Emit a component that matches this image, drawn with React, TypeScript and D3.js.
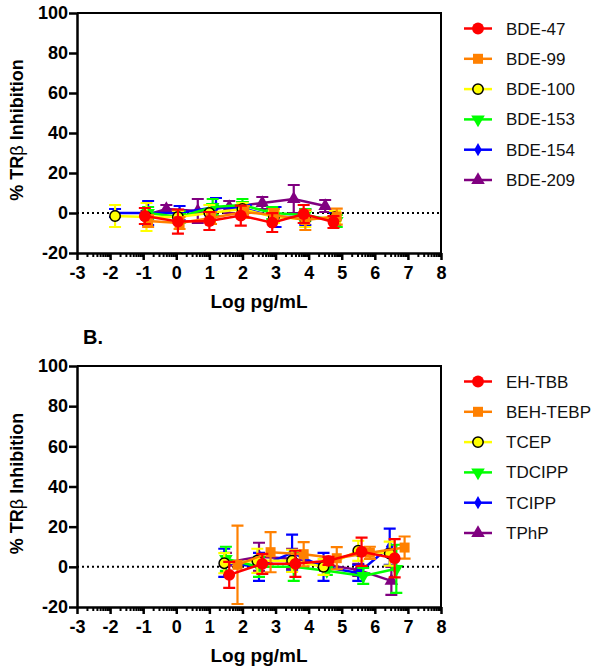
import { useEffect, useRef } from "react";
import * as d3 from "d3";

// axis ticks shared by both panels
const xTicks = [-3, -2, -1, 0, 1, 2, 3, 4, 5, 6, 7, 8];
const yTicks = [-20, 0, 20, 40, 60, 80, 100];

// panel A: PBDEs
const bdeNames = ["BDE-47", "BDE-99", "BDE-100", "BDE-153", "BDE-154", "BDE-209"];
const bde47X = [-0.95, 0.05, 1.0, 1.95, 2.9, 3.85, 4.75];
const bde47Y = [-1.5, -4.3, -4, -1.3, -4.8, -0.5, -4.5];
const bde47E = [4, 6, 4.5, 5, 4.7, 4.5, 3];
const bde99X = [-0.85, 0.1, 1.05, 2.05, 2.95, 3.9, 4.85];
const bde99Y = [-4, -5, -2.5, 0.5, -1, -3.5, -1.8];
const bde99E = [3, 3, 3, 3, 3, 5, 4];
const bde100X = [-1.85, -0.9, 0.05, 1.0, 2.0, 2.95, 3.9, 4.8];
const bde100Y = [-1.5, -2, -2, 0, 2, -2, -3, -2];
const bde100E = [5.5, 7, 3, 4, 3, 3, 4, 3];
const bde153X = [-0.85, 0.1, 1.1, 2.0, 2.9, 3.9, 4.85];
const bde153Y = [0, -2, 3, 4, 0, -1, -4];
const bde153E = [3, 3, 4, 3, 3, 3, 3];
const bde154X = [-1.85, -0.85, 0.1, 1.2, 2.1, 3.0, 3.9, 4.8];
const bde154Y = [0, 0, 0, 3, 2, -2, -2, -3];
const bde154E = [2, 6, 3.5, 4.5, 2, 5, 4, 3];
const bde209X = [-0.9, -0.3, 0.65, 1.6, 2.6, 3.55, 4.5];
const bde209Y = [-1, 2, 1, 3, 5, 7, 3.5];
const bde209E = [2, 2, 6, 3, 3, 7, 3];

// panel B: organophosphate / brominated FRs
const frNames = ["EH-TBB", "BEH-TEBP", "TCEP", "TDCIPP", "TCIPP", "TPhP"];
const ehtbbX = [1.6, 2.6, 3.6, 4.6, 5.6, 6.6];
const ehtbbY = [-4, 1.5, 1.5, 3, 7.5, 4.3];
const ehtbbE = [6.5, 5, 6.5, 2, 7, 9.5];
const behtebpX = [1.85, 2.85, 3.85, 4.85, 5.85, 6.9];
const behtebpY = [1, 7.3, 6.3, 4.3, 7, 9.6];
const behtebpE = [19.5, 10, 6, 5.5, 3, 5.5];
const tcepX = [1.45, 2.45, 3.5, 4.45, 5.5, 6.45];
const tcepY = [1.8, 3, 3, 0, 8, 6.6];
const tcepE = [5, 6, 5.5, 4, 5, 6];
const tdcippX = [1.5, 2.5, 3.55, 4.55, 5.65, 6.65];
const tdcippY = [4, 0, 0, -2, -4.5, -1];
const tdcippE = [6, 5, 7, 2, 4, 12];
const tcippX = [1.45, 2.5, 3.5, 4.45, 5.5, 6.45];
const tcippY = [2, 0, 7, 0, -3, 10];
const tcippE = [7, 7, 9, 7, 4, 9];
const tphpX = [1.5, 2.5, 3.5, 4.5, 5.5, 6.5];
const tphpY = [2, 5, 4, 1, -1.5, -7];
const tphpE = [5, 7, 5, 3, 3, 7];

const colors = ["#ff0000", "#ff8000", "#ffff00", "#00ff00", "#0000ff", "#800080"];
const shapes = ["circle", "square", "open", "down", "diamond", "up"];

const FONT = "Arial, 'Liberation Sans', sans-serif";

const makeSeries = (names, xs, ys, es) =>
  names.map((name, i) => ({
    name,
    color: colors[i],
    shape: shapes[i],
    points: xs[i].map((x, j) => ({ x, y: ys[i][j], e: es[i][j] })),
  }));

const bdeSeries = makeSeries(
  bdeNames,
  [bde47X, bde99X, bde100X, bde153X, bde154X, bde209X],
  [bde47Y, bde99Y, bde100Y, bde153Y, bde154Y, bde209Y],
  [bde47E, bde99E, bde100E, bde153E, bde154E, bde209E]
);
const frSeries = makeSeries(
  frNames,
  [ehtbbX, behtebpX, tcepX, tdcippX, tcippX, tphpX],
  [ehtbbY, behtebpY, tcepY, tdcippY, tcippY, tphpY],
  [ehtbbE, behtebpE, tcepE, tdcippE, tcippE, tphpE]
);

function addMarker(sel, shape, color, cx, cy) {
  let sym;
  let rot = 0;
  if (shape === "circle") sym = d3.symbol(d3.symbolCircle, 110);
  else if (shape === "square") sym = d3.symbol(d3.symbolSquare, 100);
  else if (shape === "open") sym = d3.symbol(d3.symbolCircle, 85);
  else if (shape === "down") { sym = d3.symbol(d3.symbolTriangle, 80); rot = 180; }
  else if (shape === "diamond") sym = d3.symbol(d3.symbolDiamond, 50);
  else sym = d3.symbol(d3.symbolTriangle, 80);
  sel
    .append("path")
    .attr("d", sym())
    .attr("transform", `translate(${cx},${cy}) rotate(${rot})`)
    .attr("fill", color)
    .attr("stroke", shape === "open" ? "#000" : "none")
    .attr("stroke-width", 1.5);
}

function drawPanel(svg, series, top, bottom, legendTop) {
  const left = 77;
  const right = 441;
  const x = d3.scaleLinear().domain([-3, 8]).range([left, right]);
  const y = d3.scaleLinear().domain([-20, 100]).range([bottom, top]);

  const g = svg.append("g");

  // frame (top + right)
  g.append("path")
    .attr("d", `M${left},${top}H${right}V${bottom}`)
    .attr("fill", "none")
    .attr("stroke", "#000")
    .attr("stroke-width", 2);

  // dotted zero line
  g.append("line")
    .attr("x1", left)
    .attr("x2", right)
    .attr("y1", y(0))
    .attr("y2", y(0))
    .attr("stroke", "#000")
    .attr("stroke-width", 2)
    .attr("stroke-dasharray", "2,3");

  // series, last drawn first so red sits on top
  series
    .slice()
    .reverse()
    .forEach((s) => {
      const sg = g.append("g");
      const line = d3
        .line()
        .x((d) => x(d.x))
        .y((d) => y(d.y));
      sg.append("path")
        .attr("d", line(s.points))
        .attr("fill", "none")
        .attr("stroke", s.color)
        .attr("stroke-width", 2.5);
      s.points.forEach((p) => {
        const cx = x(p.x);
        sg.append("path")
          .attr(
            "d",
            `M${cx},${y(p.y + p.e)}V${y(p.y - p.e)}M${cx - 6},${y(p.y + p.e)}H${cx + 6}M${cx - 6},${y(p.y - p.e)}H${cx + 6}`
          )
          .attr("fill", "none")
          .attr("stroke", s.color)
          .attr("stroke-width", 2.2);
      });
      s.points.forEach((p) => addMarker(sg, s.shape, s.color, x(p.x), y(p.y)));
    });

  const fmt = (d) => String(d); // plain hyphen minus, like the original

  // y axis
  const ya = g
    .append("g")
    .attr("transform", `translate(${left},0)`)
    .call(d3.axisLeft(y).tickValues(yTicks).tickFormat(fmt).tickSize(8).tickSizeOuter(0).tickPadding(1));
  ya.select(".domain").attr("stroke-width", 2.5);
  ya.selectAll(".tick line").attr("stroke-width", 2.5);
  ya.selectAll(".tick text")
    .attr("font-family", FONT)
    .attr("font-size", 18)
    .attr("font-weight", "bold")
    .attr("fill", "#000");

  // x axis: minor log ticks then majors
  const minor = [];
  for (let d = -3; d < 8; d++) for (let k = 2; k <= 9; k++) minor.push(d + Math.log10(k));
  const xm = g
    .append("g")
    .attr("transform", `translate(0,${bottom})`)
    .call(d3.axisBottom(x).tickValues(minor).tickSize(4).tickSizeOuter(0).tickFormat(() => ""));
  xm.select(".domain").remove();
  xm.selectAll(".tick line").attr("stroke-width", 2);

  const xa = g
    .append("g")
    .attr("transform", `translate(0,${bottom})`)
    .call(d3.axisBottom(x).tickValues(xTicks).tickFormat(fmt).tickSize(7).tickSizeOuter(0).tickPadding(6));
  xa.select(".domain").attr("stroke-width", 2.5);
  xa.selectAll(".tick line").attr("stroke-width", 2.5);
  xa.selectAll(".tick text")
    .attr("font-family", FONT)
    .attr("font-size", 18)
    .attr("font-weight", "bold")
    .attr("fill", "#000");

  // axis titles
  g.append("text")
    .attr("x", (left + right) / 2)
    .attr("y", bottom + 55)
    .attr("text-anchor", "middle")
    .attr("font-family", FONT)
    .attr("font-size", 19)
    .attr("font-weight", "bold")
    .text("Log pg/mL");

  const yl = g
    .append("text")
    .attr("transform", `translate(23,${(top + bottom) / 2 - 3}) rotate(-90)`)
    .attr("text-anchor", "middle")
    .attr("font-family", FONT)
    .attr("font-size", 18)
    .attr("font-weight", "bold");
  yl.append("tspan").text("% TR");
  yl.append("tspan").attr("font-weight", "normal").text("β");
  yl.append("tspan").text(" Inhibition");

  // legend
  series.forEach((s, i) => {
    const ly = legendTop + i * 30.3;
    const lg = g.append("g");
    lg.append("line")
      .attr("x1", 464)
      .attr("x2", 492)
      .attr("y1", ly)
      .attr("y2", ly)
      .attr("stroke", s.color)
      .attr("stroke-width", 2.5);
    addMarker(lg, s.shape, s.color, 478, ly);
    lg.append("text")
      .attr("x", 506)
      .attr("y", ly + 6)
      .attr("font-family", FONT)
      .attr("font-size", 17)
      .attr("fill", "#111")
      .text(s.name);
  });
}

export default function App() {
  const svgRef = useRef(null);

  useEffect(() => {
    const svg = d3.select(svgRef.current);
    svg.selectAll("*").remove();

    drawPanel(svg, bdeSeries, 13, 253, 28.5);
    drawPanel(svg, frSeries, 366, 607, 381.5);

    svg.append("text")
      .attr("x", 83)
      .attr("y", 344)
      .attr("font-family", FONT)
      .attr("font-size", 20)
      .attr("font-weight", "bold")
      .text("B.");
  }, []);

  return (
    <svg
      ref={svgRef}
      width={597}
      height={666}
      style={{ position: "absolute", left: 0, top: 0, background: "#fff" }}
    ></svg>
  );
}
